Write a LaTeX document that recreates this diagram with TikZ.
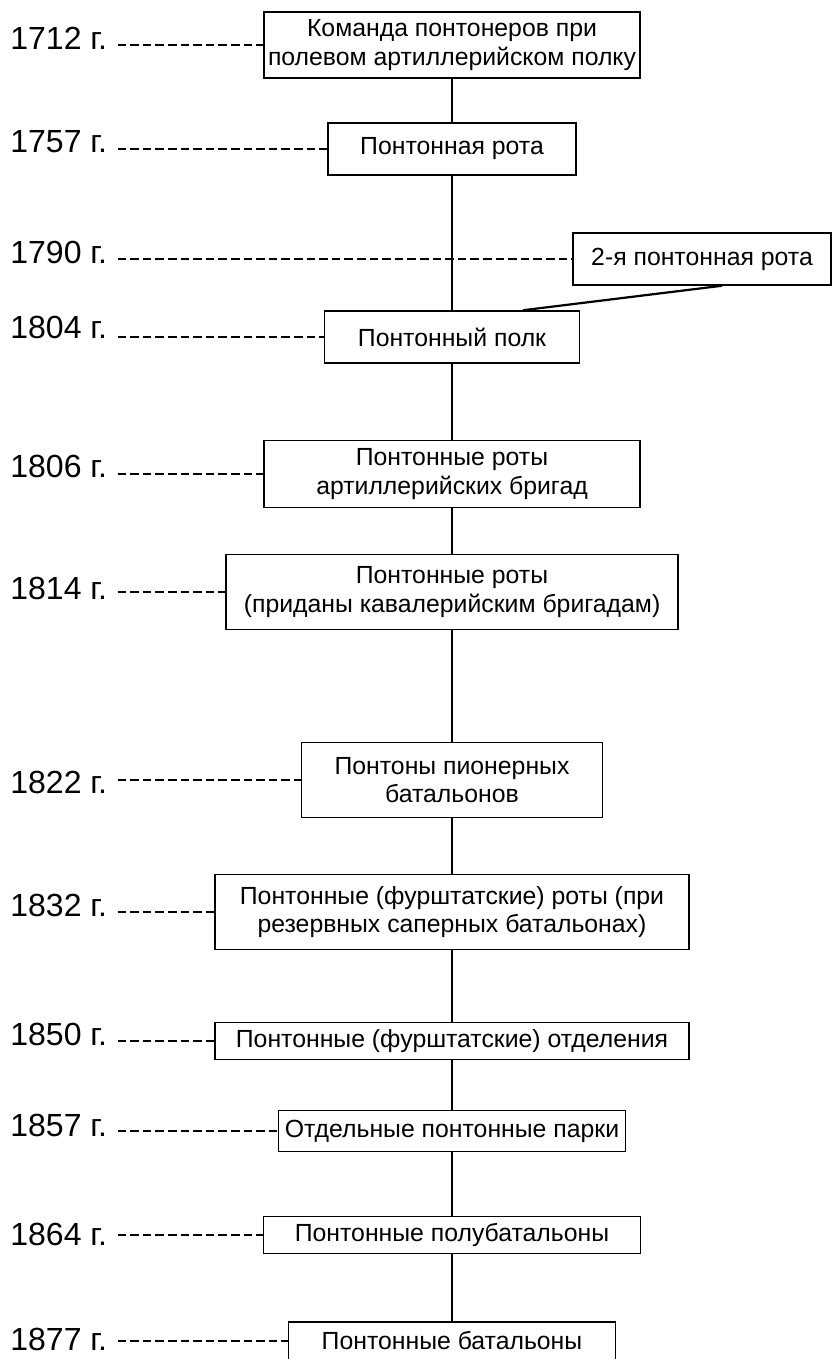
\documentclass[tikz,border=0pt]{standalone}
\usepackage{fontspec}
\setmainfont{Liberation Sans}
\usetikzlibrary{calc}

\tikzset{
  stage/.style={draw, line width=0.75pt, align=center, inner sep=0pt,
    font=\fontsize{12.4}{14.2}\selectfont},
  year/.style={anchor=base west, inner sep=0pt, font=\fontsize{16}{18}\selectfont},
  dashline/.style={line width=1.2pt, dash pattern=on 4.3pt off 2pt},
  link/.style={line width=1.1pt}
}

\begin{document}
\begin{tikzpicture}[x=0.5pt,y=-0.5pt]
\useasboundingbox (0,0) rectangle (832,1359);

% stages
\node[stage, minimum width=188pt, minimum height=33pt] (b1712) at (452,45) {Команда понтонеров при\\полевом артиллерийском полку};
\node[stage, minimum width=124pt, minimum height=26pt] (b1757) at (452,149) {Понтонная рота};
\node[stage, minimum width=129pt, minimum height=26pt] (b1790) at (702,259) {2-я понтонная рота};
\node[stage, minimum width=127.5pt, minimum height=26pt] (b1804) at (452,337) {Понтонный полк};
\node[stage, minimum width=188pt, minimum height=33.5pt] (b1806) at (452,474) {Понтонные роты\\артиллерийских бригад};
\node[stage, minimum width=226pt, minimum height=37.5pt] (b1814) at (452,592) {Понтонные роты\\(приданы кавалерийским бригадам)};
\node[stage, minimum width=150.5pt, minimum height=37.5pt] (b1822) at (452,780) {Понтоны пионерных\\батальонов};
\node[stage, minimum width=237pt, minimum height=37.5pt] (b1832) at (452,912) {Понтонные (фурштатские) роты (при\\резервных саперных батальонах)};
\node[stage, minimum width=237pt, minimum height=18.5pt] (b1850) at (452,1041) {Понтонные (фурштатские) отделения};
\node[stage, minimum width=173.5pt, minimum height=20.5pt] (b1857) at (452,1131) {Отдельные понтонные парки};
\node[stage, minimum width=188.5pt, minimum height=18.5pt] (b1864) at (452,1235) {Понтонные полубатальоны};
\node[stage, minimum width=163.5pt, minimum height=19pt] (b1877) at (452,1341) {Понтонные батальоны};

% years
\node[year] (y1712) at (10,50) {1712 г.};
\node[year] (y1757) at (10,153) {1757 г.};
\node[year] (y1790) at (10,263) {1790 г.};
\node[year] (y1804) at (10,338) {1804 г.};
\node[year] (y1806) at (10,477) {1806 г.};
\node[year] (y1814) at (10,599) {1814 г.};
\node[year] (y1822) at (10,793) {1822 г.};
\node[year] (y1832) at (10,916) {1832 г.};
\node[year] (y1850) at (10,1045) {1850 г.};
\node[year] (y1857) at (10,1136) {1857 г.};
\node[year] (y1864) at (10,1245) {1864 г.};
\node[year] (y1877) at (10,1350) {1877 г.};

% dashed leaders
\foreach \yr in {1712,1757,1790,1804,1806,1814,1822,1832,1850,1857,1864,1877}
  \draw[dashline] ($(y\yr.east |- b\yr.west)+(10,0)$) -- (b\yr.west);

% main line
\draw[link] (b1712) -- (b1757);
\draw[link] (b1757) -- (b1804);
\draw[link] (b1804) -- (b1806);
\draw[link] (b1806) -- (b1814);
\draw[link] (b1814) -- (b1822);
\draw[link] (b1822) -- (b1832);
\draw[link] (b1832) -- (b1850);
\draw[link] (b1850) -- (b1857);
\draw[link] (b1857) -- (b1864);
\draw[link] (b1864) -- (b1877);
\draw[link] ($(b1790.south)+(20,0)$) -- ($(b1804.north)+(71,0)$);
\end{tikzpicture}
\end{document}
